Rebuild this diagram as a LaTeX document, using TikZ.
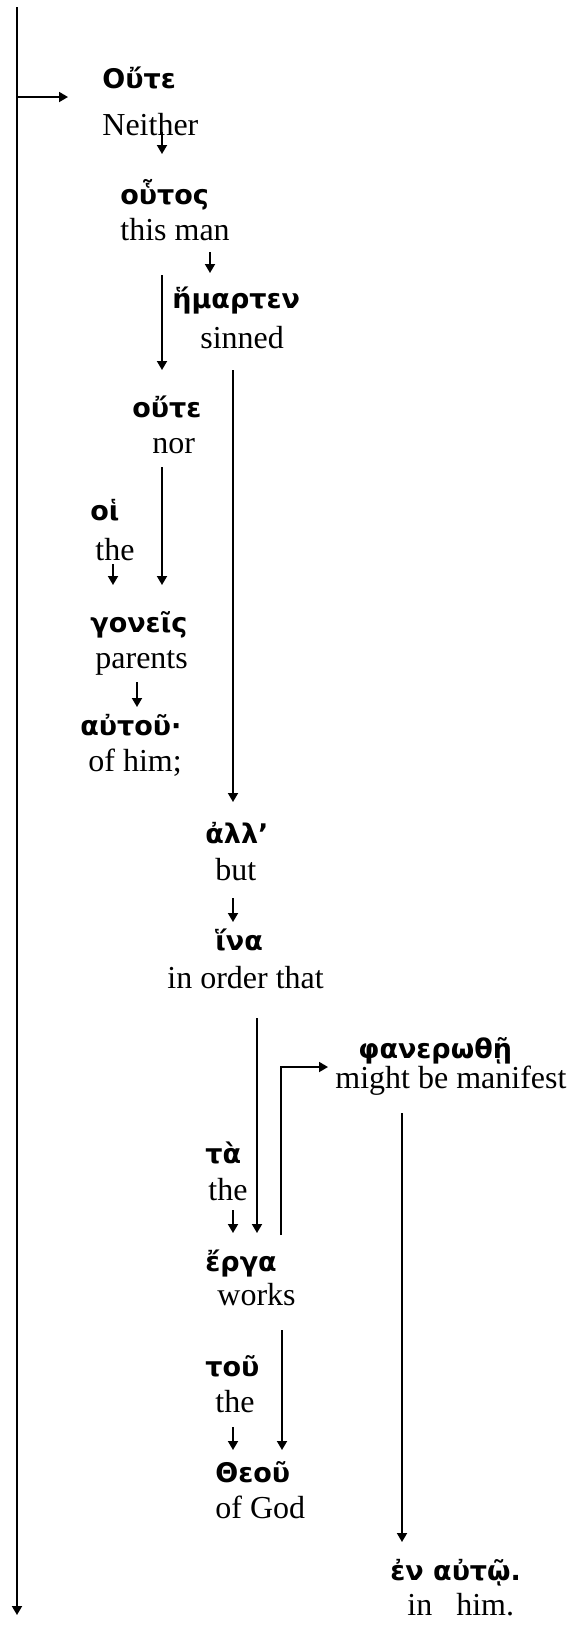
\documentclass[tikz,border=0pt]{standalone}
\usepackage{fontspec}
\setmainfont{Liberation Serif}
\newfontfamily\grk{DejaVu Sans}
\usetikzlibrary{arrows.meta}

\tikzset{
  gr/.style={font=\grk\bfseries\fontsize{13.5pt}{15pt}\selectfont, inner sep=0pt, anchor=base west},
  en/.style={font=\fontsize{16pt}{18pt}\selectfont, inner sep=0pt, anchor=base west},
  arr/.style={-{Triangle[length=4.5pt,width=5pt]}, line width=0.9pt},
}

\begin{document}
\begin{tikzpicture}[x=0.5pt, y=-0.5pt]
\useasboundingbox (0,0) rectangle (571,1629);

% Main line down the left side
\coordinate (top) at (17,7);
\coordinate (bottom) at (17,1615);
\coordinate (branch) at (17,97);
\coordinate (oute-in) at (68,97);
\draw[arr] (top) -- (bottom);
\draw[arr] (branch) -- (oute-in);

% Words: Greek above, English below
\node[gr] (oute-gr) at (102,88) {Οὔτε};
\node[en] (oute-en) at (102,135) {Neither};

\node[gr] (houtos-gr) at (120,204) {οὗτος};
\node[en] (houtos-en) at (120,240) {this man};

\node[gr] (hemarten-gr) at (172,308) {ἥμαρτεν};
\node[en] (hemarten-en) at (200,348) {sinned};

\node[gr] (oute2-gr) at (132,417) {οὔτε};
\node[en] (oute2-en) at (152,453) {nor};

\node[gr] (hoi-gr) at (90,520) {οἱ};
\node[en] (hoi-en) at (95,560) {the};

\node[gr] (goneis-gr) at (90,632) {γονεῖς};
\node[en] (goneis-en) at (95,668) {parents};

\node[gr] (autou-gr) at (80,735) {αὐτοῦ·};
\node[en] (autou-en) at (88,771) {of him;};

\node[gr] (all-gr) at (205,843) {ἀλλ’};
\node[en] (all-en) at (215,880) {but};

\node[gr] (hina-gr) at (215,950) {ἵνα};
\node[en] (hina-en) at (167,988) {in order that};

\node[gr] (phan-gr) at (358,1058) {φανερωθῇ};
\node[en] (phan-en) at (335,1088) {might be manifest};

\node[gr] (ta-gr) at (205,1163) {τὰ};
\node[en] (ta-en) at (208,1200) {the};

\node[gr] (erga-gr) at (205,1271) {ἔργα};
\node[en] (erga-en) at (217,1305) {works};

\node[gr] (tou-gr) at (205,1376) {τοῦ};
\node[en] (tou-en) at (215,1412) {the};

\node[gr] (theou-gr) at (215,1482) {Θεοῦ};
\node[en] (theou-en) at (215,1518) {of God};

\node[gr] (enauto-gr) at (390,1580) {ἐν αὐτῷ.};
\node[en] (enauto-en) at (407,1615) {in~~ him.};

% Arrow ends
\coordinate (oute-out) at (162,132);   \coordinate (houtos-in) at (162,154);
\coordinate (houtos-out) at (210,252); \coordinate (hemarten-in) at (210,273);
\coordinate (houtos-out2) at (162,275); \coordinate (oute2-in) at (162,370);
\coordinate (hemarten-out) at (233,370); \coordinate (all-in) at (233,802);
\coordinate (oute2-out) at (162,467);  \coordinate (goneis-in) at (162,585);
\coordinate (hoi-out) at (113,564);    \coordinate (goneis-in2) at (113,585);
\coordinate (goneis-out) at (137,682); \coordinate (autou-in) at (137,707);
\coordinate (all-out) at (233,898);    \coordinate (hina-in) at (233,922);
\coordinate (hina-out) at (257,1018);  \coordinate (erga-in) at (257,1233);
\coordinate (erga-out) at (281,1235);  \coordinate (phan-in) at (328,1067);
\coordinate (phan-out) at (402,1113);  \coordinate (enauto-in) at (402,1542);
\coordinate (ta-out) at (233,1210);    \coordinate (erga-in2) at (233,1233);
\coordinate (erga-out2) at (282,1330); \coordinate (theou-in) at (282,1450);
\coordinate (tou-out) at (233,1427);   \coordinate (theou-in2) at (233,1450);

% Connectors
\draw[arr] (oute-out) -- (houtos-in);
\draw[arr] (houtos-out) -- (hemarten-in);
\draw[arr] (houtos-out2) -- (oute2-in);
\draw[arr] (hemarten-out) -- (all-in);
\draw[arr] (oute2-out) -- (goneis-in);
\draw[arr] (hoi-out) -- (goneis-in2);
\draw[arr] (goneis-out) -- (autou-in);
\draw[arr] (all-out) -- (hina-in);
\draw[arr] (hina-out) -- (erga-in);
\draw[arr] (erga-out) |- (phan-in);
\draw[arr] (phan-out) -- (enauto-in);
\draw[arr] (ta-out) -- (erga-in2);
\draw[arr] (erga-out2) -- (theou-in);
\draw[arr] (tou-out) -- (theou-in2);

\end{tikzpicture}
\end{document}
